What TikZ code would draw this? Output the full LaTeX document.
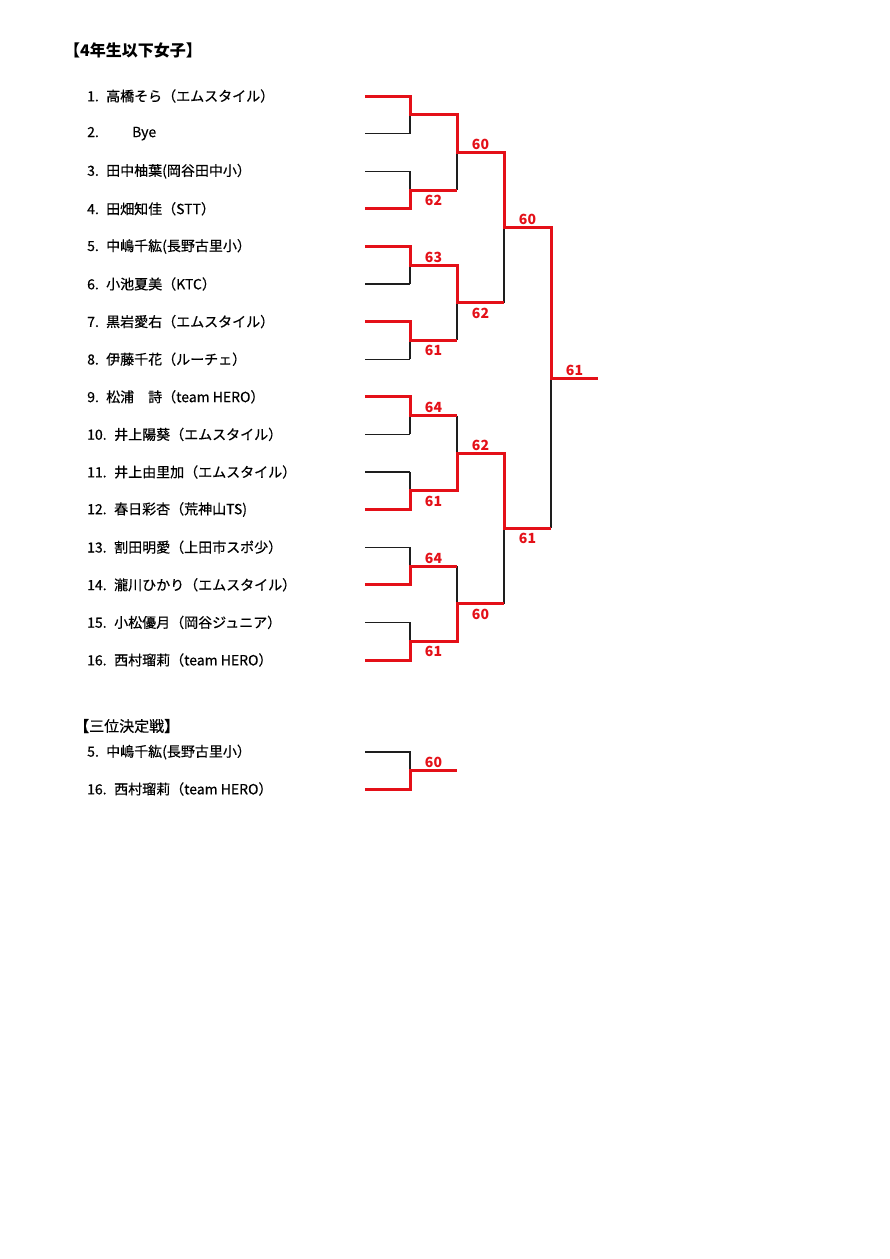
\documentclass[tikz,border=0pt]{standalone}
\usepackage{fontspec}
\setmainfont{Noto Sans CJK JP}
\newfontface\namefont{Noto Sans CJK JP}[FakeBold=0.5]
\usetikzlibrary{calc}
\definecolor{win}{RGB}{228,16,24}
\definecolor{thin}{RGB}{30,30,30}
\begin{document}
\begin{tikzpicture}[x=1pt,y=-1pt,
  lose/.style={line width=1.1pt, draw=thin},
  winpath/.style={line width=3pt, draw=win, line join=miter},
  namelbl/.style={anchor=west, inner sep=0pt, font=\namefont\fontsize{14}{17}\selectfont},
  titlelbl/.style={anchor=west, inner sep=0pt, font=\fontsize{16}{19}\selectfont\bfseries},
  headlbl/.style={anchor=west, inner sep=0pt, font=\namefont\fontsize{15}{18}\selectfont},
  scoreup/.style={anchor=south, inner sep=0pt, yshift=2.5pt, text=win, font=\fontsize{14}{16}\selectfont\bfseries},
  scoredn/.style={anchor=north, inner sep=0pt, yshift=-5pt, text=win, font=\fontsize{14}{16}\selectfont\bfseries}]
\useasboundingbox (0,0) rectangle (890,1259);
\fill[white] (0,0) rectangle (890,1259);

% ---- coordinates
\foreach \i in {1,...,16}{
  \pgfmathsetmacro\yy{96+(\i-1)*37.6}
  \coordinate (a\i) at (365,\yy);
  \coordinate (b\i) at (410,\yy);
}
\foreach \k in {1,...,8}{
  \pgfmathsetmacro\yy{96+(2*\k-1.5)*37.6}
  \coordinate (c\k) at (410,\yy);
  \coordinate (d\k) at (457,\yy);
}
\foreach \j in {1,...,4}{
  \pgfmathsetmacro\yy{96+(4*\j-2.5)*37.6}
  \coordinate (e\j) at (457,\yy);
  \coordinate (f\j) at (504,\yy);
}
\foreach \l in {1,2}{
  \pgfmathsetmacro\yy{96+(8*\l-4.5)*37.6}
  \coordinate (g\l) at (504,\yy);
  \coordinate (h\l) at (551,\yy);
}
\coordinate (fa) at (551,378);
\coordinate (fb) at (598,378);

% ---- black bracket
\foreach \i in {1,...,16}{ \draw[lose] (a\i) -- (b\i); }
\foreach \k in {1,...,8}{
  \pgfmathtruncatemacro\p{2*\k-1}\pgfmathtruncatemacro\q{2*\k}
  \draw[lose] (b\p) -- (b\q);
  \draw[lose] (c\k) -- (d\k);
}
\foreach \j in {1,...,4}{
  \pgfmathtruncatemacro\p{2*\j-1}\pgfmathtruncatemacro\q{2*\j}
  \draw[lose] (d\p) -- (d\q);
  \draw[lose] (e\j) -- (f\j);
}
\draw[lose] (f1) -- (f2);
\draw[lose] (f3) -- (f4);
\draw[lose] (g1) -- (h1);
\draw[lose] (g2) -- (h2);
\draw[lose] (h1) -- (h2);
\draw[lose] (fa) -- (fb);

% ---- winners (red)
\draw[winpath] (a1) -- (b1) -- (c1) -- (d1) -- (e1) -- (f1) -- (g1) -- (h1) -- (fa) -- (fb);
\draw[winpath] (a4) -- (b4) -- (c2) -- (d2);
\draw[winpath] (a5) -- (b5) -- (c3) -- (d3) -- (e2) -- (f2);
\draw[winpath] (a7) -- (b7) -- (c4) -- (d4);
\draw[winpath] (a9) -- (b9) -- (c5) -- (d5);
\draw[winpath] (a12) -- (b12) -- (c6) -- (d6) -- (e3) -- (f3) -- (g2) -- (h2);
\draw[winpath] (a14) -- (b14) -- (c7) -- (d7);
\draw[winpath] (a16) -- (b16) -- (c8) -- (d8) -- (e4) -- (f4);

% ---- scores
\node[scoredn] (s12) at ($(c2)!.5!(d2)$) {62};
\node[scoreup] (s13) at ($(c3)!.5!(d3)$) {63};
\node[scoredn] (s14) at ($(c4)!.5!(d4)$) {61};
\node[scoreup] (s15) at ($(c5)!.5!(d5)$) {64};
\node[scoredn] (s16) at ($(c6)!.5!(d6)$) {61};
\node[scoreup] (s17) at ($(c7)!.5!(d7)$) {64};
\node[scoredn] (s18) at ($(c8)!.5!(d8)$) {61};
\node[scoreup] (s21) at ($(e1)!.5!(f1)$) {60};
\node[scoredn] (s22) at ($(e2)!.5!(f2)$) {62};
\node[scoreup] (s23) at ($(e3)!.5!(f3)$) {62};
\node[scoredn] (s24) at ($(e4)!.5!(f4)$) {60};
\node[scoreup] (s31) at ($(g1)!.5!(h1)$) {60};
\node[scoredn] (s32) at ($(g2)!.5!(h2)$) {61};
\node[scoreup] (sf) at ($(fa)!.5!(fb)$) {61};

% ---- titles and names
\node[titlelbl] (title) at (64,50) {【4年生以下女子】};
\node[namelbl] (n1) at (87,96) {\makebox[19pt][l]{1.}高橋そら（エムスタイル）};
\node[namelbl] (n2) at (87,133.6) {\makebox[45pt][l]{2.}Bye};
\node[namelbl] (n3) at (87,171.2) {\makebox[19pt][l]{3.}田中柚葉(岡谷田中小）};
\node[namelbl] (n4) at (87,208.8) {\makebox[19pt][l]{4.}田畑知佳（STT）};
\node[namelbl] (n5) at (87,246.4) {\makebox[19pt][l]{5.}中嶋千紘(長野古里小）};
\node[namelbl] (n6) at (87,284) {\makebox[19pt][l]{6.}小池夏美（KTC）};
\node[namelbl] (n7) at (87,321.6) {\makebox[19pt][l]{7.}黒岩愛右（エムスタイル）};
\node[namelbl] (n8) at (87,359.2) {\makebox[19pt][l]{8.}伊藤千花（ルーチェ）};
\node[namelbl] (n9) at (87,396.8) {\makebox[19pt][l]{9.}松浦　詩（team HERO）};
\node[namelbl] (n10) at (87,434.4) {\makebox[27pt][l]{10.}井上陽葵（エムスタイル）};
\node[namelbl] (n11) at (87,472) {\makebox[27pt][l]{11.}井上由里加（エムスタイル）};
\node[namelbl] (n12) at (87,509.6) {\makebox[27pt][l]{12.}春日彩杏（荒神山TS)};
\node[namelbl] (n13) at (87,547.2) {\makebox[27pt][l]{13.}割田明愛（上田市スポ少）};
\node[namelbl] (n14) at (87,584.8) {\makebox[27pt][l]{14.}瀧川ひかり（エムスタイル）};
\node[namelbl] (n15) at (87,622.4) {\makebox[27pt][l]{15.}小松優月（岡谷ジュニア）};
\node[namelbl] (n16) at (87,660) {\makebox[27pt][l]{16.}西村瑠莉（team HERO）};

% ---- third place
\node[headlbl] (thead) at (74,726) {【三位決定戦】};
\node[namelbl] (t5) at (87,752) {\makebox[19pt][l]{5.}中嶋千紘(長野古里小）};
\node[namelbl] (t16) at (87,789) {\makebox[27pt][l]{16.}西村瑠莉（team HERO）};
\coordinate (ta1) at (365,752);
\coordinate (tb1) at (410,752);
\coordinate (ta2) at (365,789);
\coordinate (tb2) at (410,789);
\coordinate (tc) at (410,770.5);
\coordinate (td) at (457,770.5);
\draw[lose] (ta1) -- (tb1) -- (tb2);
\draw[winpath] (ta2) -- (tb2) -- (tc) -- (td);
\node[scoreup] (st) at ($(tc)!.5!(td)$) {60};
\end{tikzpicture}
\end{document}
